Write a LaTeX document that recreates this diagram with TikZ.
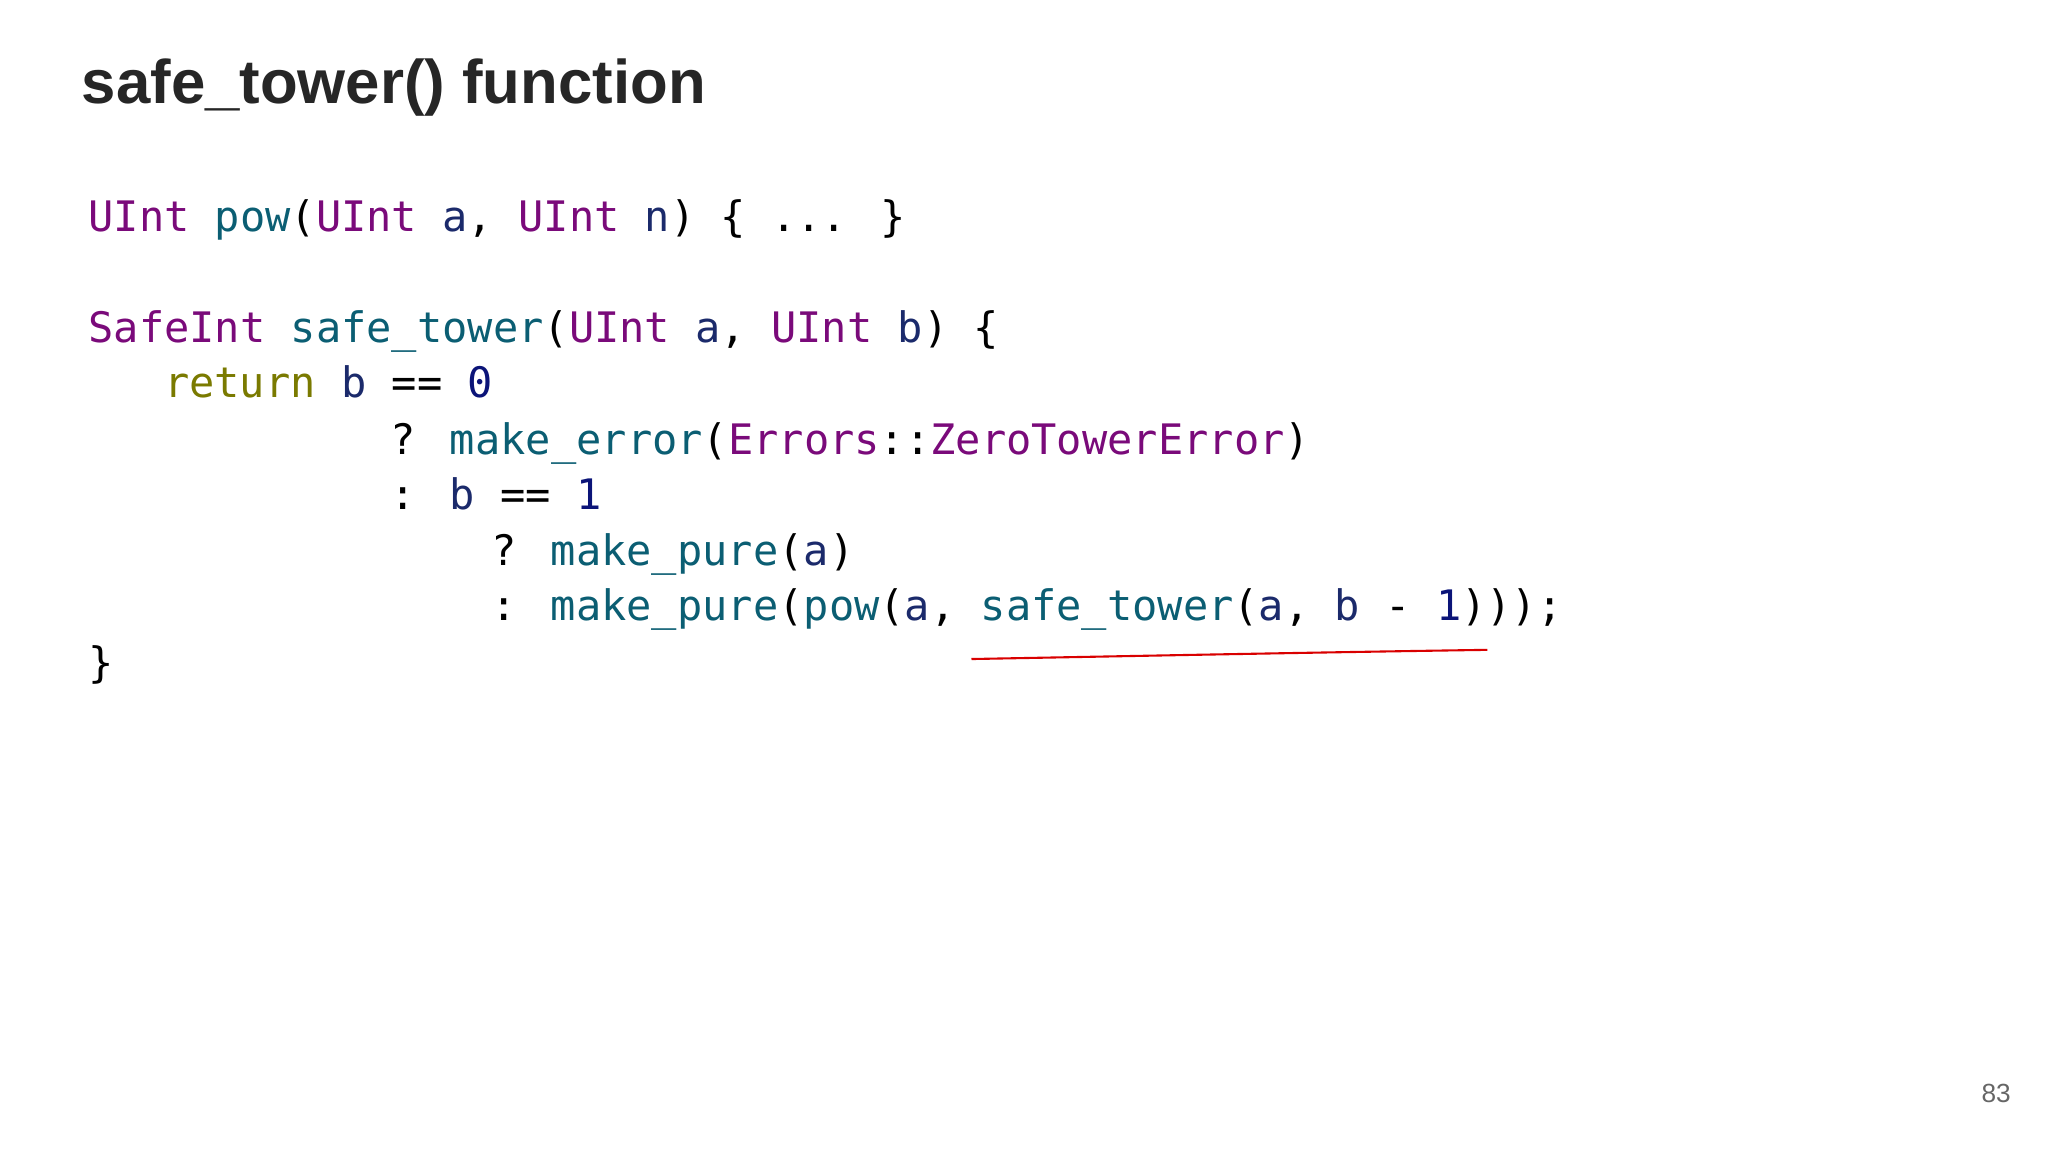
\documentclass[tikz,border=0pt]{standalone}
\usepackage{fontspec}
\setmainfont{Liberation Sans}
\newfontfamily\codefont{DejaVu Sans Mono}
\definecolor{cty}{HTML}{7A0A7A}
\definecolor{cfn}{HTML}{0B5E73}
\definecolor{cvr}{HTML}{1B2A6B}
\definecolor{cnm}{HTML}{0B1478}
\definecolor{ckw}{HTML}{7A7A00}
\newcommand\Ty[1]{\textcolor{cty}{#1}}
\newcommand\Fn[1]{\textcolor{cfn}{#1}}
\newcommand\Vr[1]{\textcolor{cvr}{#1}}
\newcommand\Nm[1]{\textcolor{cnm}{#1}}
\newcommand\Kw[1]{\textcolor{ckw}{#1}}
\begin{document}
\begin{tikzpicture}[x=0.5pt,y=-0.5pt,
  code/.style={anchor=base west,inner sep=0,font=\codefont\fontsize{16}{18}\selectfont,text=black}]
\useasboundingbox (0,0) rectangle (1560,877.5);
\fill[white] (0,0) rectangle (1560,877.5);
\node[anchor=base west,inner sep=0,font=\bfseries\fontsize{23.5}{26}\selectfont,text=black!85] (title) at (62,79) {safe\_tower() function};
\node[code] (l1) at (67,176) {\Ty{UInt} \Fn{pow}(\Ty{UInt} \Vr{a}, \Ty{UInt} \Vr{n}) \{ ... \}};
\node[code] (l2) at (67,261) {\Ty{SafeInt} \Fn{safe\_tower}(\Ty{UInt} \Vr{a}, \Ty{UInt} \Vr{b}) \{};
\node[code] (l3) at (124.6,303) {\Kw{return} \Vr{b} == \Nm{0}};
\node[code] (l4) at (297.4,346) {? \Fn{make\_error}(\Ty{Errors}::\Ty{ZeroTowerError})};
\node[code] (l5) at (297.4,388) {: \Vr{b} == \Nm{1}};
\node[code] (l6) at (374.2,431) {? \Fn{make\_pure}(\Vr{a})};
\node[code] (l7) at (374.2,473) {: \Fn{make\_pure}(\Fn{pow}(\Vr{a}, \Fn{safe\_tower}(\Vr{a}, \Vr{b} - \Nm{1})));};
\node[code] (l8) at (67,516) {\}};
\coordinate (u1) at (740,502);
\coordinate (u2) at (1133,495);
\draw[red!85!black,line width=0.8pt] (u1) .. controls (900,499) and (1000,497) .. (u2);
\node[anchor=base east,inner sep=0,font=\fontsize{10}{12}\selectfont,text=black!60] (pg) at (1532,840) {83};
\end{tikzpicture}
\end{document}
